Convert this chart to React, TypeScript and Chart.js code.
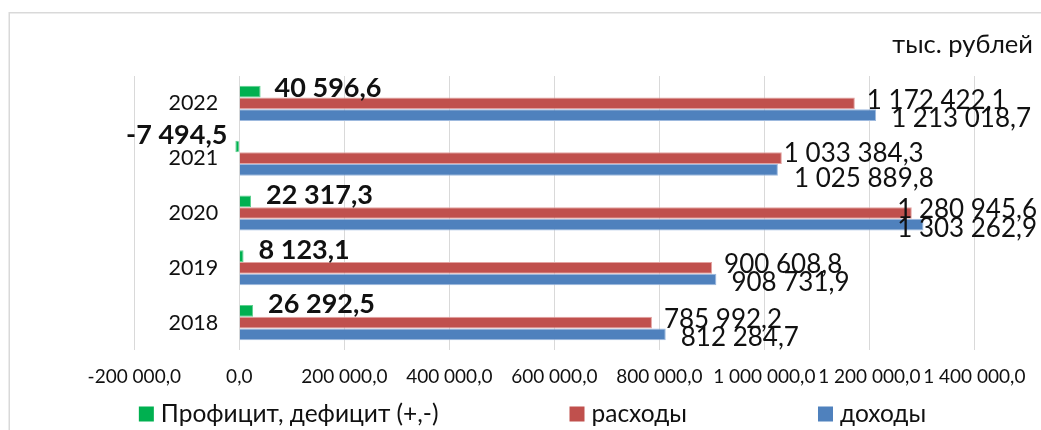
import { useEffect, useRef } from "react";
import { Chart, registerables } from "chart.js";

Chart.register(...registerables);

// ---- data ----
const YEARS = ["2022", "2021", "2020", "2019", "2018"];
const SURPLUS = [40596.6, -7494.5, 22317.3, 8123.1, 26292.5];
const EXPENSES = [1172422.1, 1033384.3, 1280945.6, 900608.8, 785992.2];
const INCOME = [1213018.7, 1025889.8, 1303262.9, 908731.9, 812284.7];
const SERIES_NAMES = ["Профицит, дефицит (+,-)", "расходы", "доходы"];
const X_MIN = -200000;
const X_MAX = 1400000;
const X_STEP = 200000;
const UNIT_TEXT = "тыс. рублей";

// ---- styles ----
const FONT = "Lato, 'Open Sans', sans-serif";
const COLORS = ["#00B050", "#C0504D", "#4F81BD"];
const BORDERS = ["#5FD08F", "#E3A3A1", "#9DB9DE"];
const TEXT = "#111111";
const Y_LABEL_GAP = 21;

const LABEL_STYLE = [
  { weight: "bold", size: 27, dx: 15, dy: -7 },
  { weight: "normal", size: 26, dx: 12, dy: -4.7 },
  { weight: "normal", size: 26, dx: 15, dy: 2 },
];
// per-label nudges [dx, dy] (like manually moved Excel labels)
const LABEL_NUDGE: Record<string, [number, number]> = {
  "0:2022": [-1, 2.5],
  "0:2021": [-7, -5],
  "1:2021": [-10, -1.8],
  "2:2021": [1, 5],
};
const LABEL_RIGHT_LIMIT = 1037;

function fmt(v: number): string {
  const neg = v < 0;
  const [i, d] = Math.abs(v).toFixed(1).split(".");
  const g = i.replace(/\B(?=(\d{3})+(?!\d))/g, " ");
  return (neg ? "-" : "") + g + "," + d;
}

const framePlugin = {
  id: "frame",
  beforeDraw(chart: any) {
    const ctx = chart.ctx;
    ctx.save();
    ctx.fillStyle = "#ffffff";
    ctx.fillRect(0, 0, chart.width, chart.height);
    ctx.strokeStyle = "#D9D9D9";
    ctx.lineWidth = 1.5;
    ctx.strokeRect(9.25, 12.75, chart.width + 50, chart.height + 50);
    ctx.restore();
  },
};

// category labels sit left of the zero line with a gap (ticks.padding is ignored for value-positioned axes)
const yLabelGapPlugin = {
  id: "yLabelGap",
  afterLayout(chart: any) {
    const ys = chart.scales.y;
    if (!ys || ys.__gapPatched) return;
    const orig = ys.drawLabels.bind(ys);
    ys.drawLabels = (area: any) => {
      const ctx = chart.ctx;
      ctx.save();
      ctx.translate(-Y_LABEL_GAP, 0);
      orig(area);
      ctx.restore();
    };
    ys.__gapPatched = true;
  },
};

const labelsPlugin = {
  id: "valueLabels",
  afterDatasetsDraw(chart: any) {
    const ctx = chart.ctx;
    ctx.save();
    chart.data.datasets.forEach((ds: any, di: number) => {
      const meta = chart.getDatasetMeta(di);
      const st = LABEL_STYLE[di];
      ctx.font = `${st.weight} ${st.size}px ${FONT}`;
      ctx.fillStyle = TEXT;
      ctx.textBaseline = "alphabetic";
      const capH = ctx.measureText("0").actualBoundingBoxAscent;
      meta.data.forEach((bar: any, j: number) => {
        const v = ds.data[j] as number;
        const txt = fmt(v);
        const w = ctx.measureText(txt).width;
        const nudge = LABEL_NUDGE[`${di}:${chart.data.labels[j]}`] || [0, 0];
        const dx = st.dx + nudge[0];
        const dy = st.dy + nudge[1];
        let x: number;
        if (v >= 0) {
          x = bar.x + dx;
          if (x + w > LABEL_RIGHT_LIMIT) x = LABEL_RIGHT_LIMIT - w;
        } else {
          x = bar.x - dx - w;
        }
        const y = bar.y + dy + capH / 2;
        ctx.textAlign = "left";
        ctx.fillText(txt, x, y);
      });
    });
    ctx.restore();
  },
};

const unitPlugin = {
  id: "unitText",
  afterDraw(chart: any) {
    const ctx = chart.ctx;
    ctx.save();
    ctx.font = `normal 25.5px ${FONT}`;
    ctx.fillStyle = TEXT;
    ctx.textAlign = "right";
    ctx.textBaseline = "alphabetic";
    ctx.fillText(UNIT_TEXT, 1033, 53);
    ctx.restore();
  },
};

const legendPlugin = {
  id: "bottomLegend",
  afterDraw(chart: any) {
    const ctx = chart.ctx;
    ctx.save();
    ctx.font = `normal 24.5px ${FONT}`;
    ctx.textBaseline = "alphabetic";
    ctx.textAlign = "left";
    const box = 15;
    const gapText = 7;
    const gapItem = 131;
    const items = chart.data.datasets.map((ds: any) => ({
      label: ds.label as string,
      color: ds.backgroundColor as string,
      w: box + gapText + ctx.measureText(ds.label).width,
    }));
    const total =
      items.reduce((s: number, it: any) => s + it.w, 0) + gapItem * (items.length - 1);
    let x = 532.5 - total / 2;
    const baseY = 421.5;
    items.forEach((it: any) => {
      ctx.fillStyle = it.color;
      ctx.fillRect(x, baseY - box, box, box);
      ctx.fillStyle = TEXT;
      ctx.fillText(it.label, x + box + gapText, baseY);
      x += it.w + gapItem;
    });
    ctx.restore();
  },
};

export default function App() {
  const ref = useRef<HTMLCanvasElement | null>(null);

  useEffect(() => {
    document.body.style.margin = "0";
    document.body.style.overflow = "hidden";
    const canvas = ref.current;
    if (!canvas) return;
    const chart = new Chart(canvas, {
      type: "bar",
      data: {
        labels: YEARS,
        datasets: [
          {
            label: SERIES_NAMES[0],
            data: SURPLUS,
            backgroundColor: COLORS[0],
            borderColor: BORDERS[0],
            borderWidth: 1,
          },
          {
            label: SERIES_NAMES[1],
            data: EXPENSES,
            backgroundColor: COLORS[1],
            borderColor: BORDERS[1],
            borderWidth: 1,
          },
          {
            label: SERIES_NAMES[2],
            data: INCOME,
            backgroundColor: COLORS[2],
            borderColor: BORDERS[2],
            borderWidth: 1,
          },
        ],
      },
      options: {
        indexAxis: "y",
        responsive: false,
        animation: false,
        layout: { padding: { left: 134.3, right: 66.7, top: 76, bottom: 0 } },
        datasets: { bar: { categoryPercentage: 0.64, barPercentage: 1 } },
        scales: {
          x: {
            type: "linear",
            min: X_MIN,
            max: X_MAX,
            ticks: {
              stepSize: X_STEP,
              autoSkip: false,
              maxRotation: 0,
              minRotation: 0,
              padding: 15,
              color: TEXT,
              font: { family: FONT, size: 19 },
              callback: (v: any) => fmt(Number(v)),
            },
            grid: { color: "#D9D9D9", lineWidth: 1, drawTicks: false },
            border: { display: false },
            afterFit: (s: any) => {
              s.height = 80;
            },
          },
          y: {
            type: "category",
            position: { x: 0 } as any,
            grid: { display: false, drawTicks: false },
            border: { display: false },
            ticks: {
              color: TEXT,
              font: { family: FONT, size: 21.5 },
            },
          },
        },
        plugins: {
          legend: { display: false },
          tooltip: { enabled: false },
          title: { display: false },
        },
      },
      plugins: [framePlugin, yLabelGapPlugin, labelsPlugin, unitPlugin, legendPlugin],
    });
    return () => chart.destroy();
  }, []);

  return (
    <div style={{ width: 1041, height: 430, position: "relative" }}>
      <canvas ref={ref} width={1041} height={430} style={{ display: "block" }} />
    </div>
  );
}
